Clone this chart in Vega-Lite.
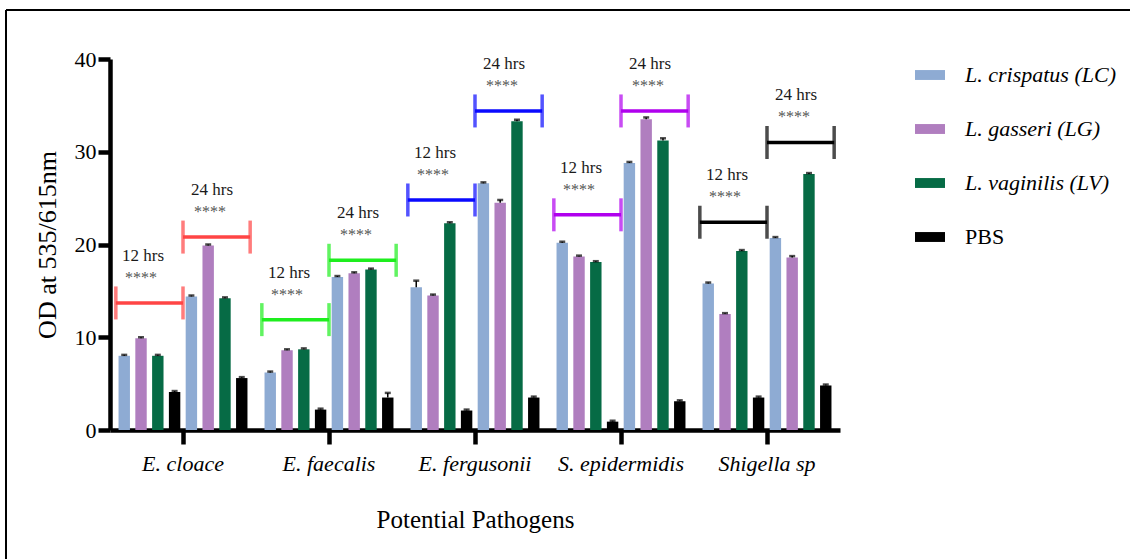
{
  "$schema": "https://vega.github.io/schema/vega-lite/v6.json",
  "width": 1124,
  "height": 549,
  "autosize": {"type": "none"},
  "padding": {"left": 6, "top": 10, "right": 0, "bottom": 0},
  "background": "white",
  "config": {
    "view": {"stroke": "black", "strokeWidth": 2, "strokeDash": [1124, 1673, 549, 0]},
    "font": "Liberation Serif",
    "axis": {"grid": false, "domainColor": "black", "tickColor": "black", "labelColor": "black", "titleColor": "black", "labelFont": "Liberation Serif", "titleFont": "Liberation Serif", "titleFontWeight": "normal"}
  },
  "datasets": {
    "bars": [
      {"pathogen": "E. cloace", "time": "12 hrs", "strain": "L. crispatus (LC)", "bar": "12LC", "value": 8.0, "upper": 8.1},
      {"pathogen": "E. cloace", "time": "12 hrs", "strain": "L. gasseri (LG)", "bar": "12LG", "value": 9.9, "upper": 10.0},
      {"pathogen": "E. cloace", "time": "12 hrs", "strain": "L. vaginilis (LV)", "bar": "12LV", "value": 8.0, "upper": 8.1},
      {"pathogen": "E. cloace", "time": "12 hrs", "strain": "PBS", "bar": "12PBS", "value": 4.1, "upper": 4.2},
      {"pathogen": "E. cloace", "time": "24 hrs", "strain": "L. crispatus (LC)", "bar": "24LC", "value": 14.4, "upper": 14.5},
      {"pathogen": "E. cloace", "time": "24 hrs", "strain": "L. gasseri (LG)", "bar": "24LG", "value": 19.9, "upper": 20.0},
      {"pathogen": "E. cloace", "time": "24 hrs", "strain": "L. vaginilis (LV)", "bar": "24LV", "value": 14.2, "upper": 14.3},
      {"pathogen": "E. cloace", "time": "24 hrs", "strain": "PBS", "bar": "24PBS", "value": 5.6, "upper": 5.7},
      {"pathogen": "E. faecalis", "time": "12 hrs", "strain": "L. crispatus (LC)", "bar": "12LC", "value": 6.2, "upper": 6.3},
      {"pathogen": "E. faecalis", "time": "12 hrs", "strain": "L. gasseri (LG)", "bar": "12LG", "value": 8.6, "upper": 8.7},
      {"pathogen": "E. faecalis", "time": "12 hrs", "strain": "L. vaginilis (LV)", "bar": "12LV", "value": 8.7, "upper": 8.8},
      {"pathogen": "E. faecalis", "time": "12 hrs", "strain": "PBS", "bar": "12PBS", "value": 2.2, "upper": 2.3},
      {"pathogen": "E. faecalis", "time": "24 hrs", "strain": "L. crispatus (LC)", "bar": "24LC", "value": 16.5, "upper": 16.6},
      {"pathogen": "E. faecalis", "time": "24 hrs", "strain": "L. gasseri (LG)", "bar": "24LG", "value": 16.9, "upper": 17.0},
      {"pathogen": "E. faecalis", "time": "24 hrs", "strain": "L. vaginilis (LV)", "bar": "24LV", "value": 17.3, "upper": 17.4},
      {"pathogen": "E. faecalis", "time": "24 hrs", "strain": "PBS", "bar": "24PBS", "value": 3.5, "upper": 4.0},
      {"pathogen": "E. fergusonii", "time": "12 hrs", "strain": "L. crispatus (LC)", "bar": "12LC", "value": 15.4, "upper": 16.1},
      {"pathogen": "E. fergusonii", "time": "12 hrs", "strain": "L. gasseri (LG)", "bar": "12LG", "value": 14.5, "upper": 14.6},
      {"pathogen": "E. fergusonii", "time": "12 hrs", "strain": "L. vaginilis (LV)", "bar": "12LV", "value": 22.3, "upper": 22.4},
      {"pathogen": "E. fergusonii", "time": "12 hrs", "strain": "PBS", "bar": "12PBS", "value": 2.1, "upper": 2.2},
      {"pathogen": "E. fergusonii", "time": "24 hrs", "strain": "L. crispatus (LC)", "bar": "24LC", "value": 26.6, "upper": 26.7},
      {"pathogen": "E. fergusonii", "time": "24 hrs", "strain": "L. gasseri (LG)", "bar": "24LG", "value": 24.5, "upper": 24.8},
      {"pathogen": "E. fergusonii", "time": "24 hrs", "strain": "L. vaginilis (LV)", "bar": "24LV", "value": 33.3, "upper": 33.45},
      {"pathogen": "E. fergusonii", "time": "24 hrs", "strain": "PBS", "bar": "24PBS", "value": 3.5, "upper": 3.6},
      {"pathogen": "S. epidermidis", "time": "12 hrs", "strain": "L. crispatus (LC)", "bar": "12LC", "value": 20.2, "upper": 20.3},
      {"pathogen": "S. epidermidis", "time": "12 hrs", "strain": "L. gasseri (LG)", "bar": "12LG", "value": 18.7, "upper": 18.8},
      {"pathogen": "S. epidermidis", "time": "12 hrs", "strain": "L. vaginilis (LV)", "bar": "12LV", "value": 18.1, "upper": 18.2},
      {"pathogen": "S. epidermidis", "time": "12 hrs", "strain": "PBS", "bar": "12PBS", "value": 0.9, "upper": 1.0},
      {"pathogen": "S. epidermidis", "time": "24 hrs", "strain": "L. crispatus (LC)", "bar": "24LC", "value": 28.8, "upper": 28.9},
      {"pathogen": "S. epidermidis", "time": "24 hrs", "strain": "L. gasseri (LG)", "bar": "24LG", "value": 33.5, "upper": 33.7},
      {"pathogen": "S. epidermidis", "time": "24 hrs", "strain": "L. vaginilis (LV)", "bar": "24LV", "value": 31.2, "upper": 31.45},
      {"pathogen": "S. epidermidis", "time": "24 hrs", "strain": "PBS", "bar": "24PBS", "value": 3.1, "upper": 3.2},
      {"pathogen": "Shigella sp", "time": "12 hrs", "strain": "L. crispatus (LC)", "bar": "12LC", "value": 15.8, "upper": 15.9},
      {"pathogen": "Shigella sp", "time": "12 hrs", "strain": "L. gasseri (LG)", "bar": "12LG", "value": 12.5, "upper": 12.6},
      {"pathogen": "Shigella sp", "time": "12 hrs", "strain": "L. vaginilis (LV)", "bar": "12LV", "value": 19.3, "upper": 19.4},
      {"pathogen": "Shigella sp", "time": "12 hrs", "strain": "PBS", "bar": "12PBS", "value": 3.5, "upper": 3.6},
      {"pathogen": "Shigella sp", "time": "24 hrs", "strain": "L. crispatus (LC)", "bar": "24LC", "value": 20.7, "upper": 20.8},
      {"pathogen": "Shigella sp", "time": "24 hrs", "strain": "L. gasseri (LG)", "bar": "24LG", "value": 18.6, "upper": 18.75},
      {"pathogen": "Shigella sp", "time": "24 hrs", "strain": "L. vaginilis (LV)", "bar": "24LV", "value": 27.6, "upper": 27.7},
      {"pathogen": "Shigella sp", "time": "24 hrs", "strain": "PBS", "bar": "24PBS", "value": 4.8, "upper": 4.9}
    ],
    "brackets": [
      {"pathogen": "E. cloace", "time": "12 hrs", "y": 13.7},
      {"pathogen": "E. cloace", "time": "24 hrs", "y": 20.8},
      {"pathogen": "E. faecalis", "time": "12 hrs", "y": 11.9},
      {"pathogen": "E. faecalis", "time": "24 hrs", "y": 18.3},
      {"pathogen": "E. fergusonii", "time": "12 hrs", "y": 24.8},
      {"pathogen": "E. fergusonii", "time": "24 hrs", "y": 34.4},
      {"pathogen": "S. epidermidis", "time": "12 hrs", "y": 23.2},
      {"pathogen": "S. epidermidis", "time": "24 hrs", "y": 34.4},
      {"pathogen": "Shigella sp", "time": "12 hrs", "y": 22.4},
      {"pathogen": "Shigella sp", "time": "24 hrs", "y": 31.0}
    ],
    "caps": [
      {"pathogen": "E. cloace", "time": "12 hrs", "slot": "a", "y": 13.7},
      {"pathogen": "E. cloace", "time": "12 hrs", "slot": "b", "y": 13.7},
      {"pathogen": "E. cloace", "time": "24 hrs", "slot": "b", "y": 20.8},
      {"pathogen": "E. cloace", "time": "24 hrs", "slot": "c", "y": 20.8},
      {"pathogen": "E. faecalis", "time": "12 hrs", "slot": "a", "y": 11.9},
      {"pathogen": "E. faecalis", "time": "12 hrs", "slot": "b", "y": 11.9},
      {"pathogen": "E. faecalis", "time": "24 hrs", "slot": "b", "y": 18.3},
      {"pathogen": "E. faecalis", "time": "24 hrs", "slot": "c", "y": 18.3},
      {"pathogen": "E. fergusonii", "time": "12 hrs", "slot": "a", "y": 24.8},
      {"pathogen": "E. fergusonii", "time": "12 hrs", "slot": "b", "y": 24.8},
      {"pathogen": "E. fergusonii", "time": "24 hrs", "slot": "b", "y": 34.4},
      {"pathogen": "E. fergusonii", "time": "24 hrs", "slot": "c", "y": 34.4},
      {"pathogen": "S. epidermidis", "time": "12 hrs", "slot": "a", "y": 23.2},
      {"pathogen": "S. epidermidis", "time": "12 hrs", "slot": "b", "y": 23.2},
      {"pathogen": "S. epidermidis", "time": "24 hrs", "slot": "b", "y": 34.4},
      {"pathogen": "S. epidermidis", "time": "24 hrs", "slot": "c", "y": 34.4},
      {"pathogen": "Shigella sp", "time": "12 hrs", "slot": "a", "y": 22.4},
      {"pathogen": "Shigella sp", "time": "12 hrs", "slot": "b", "y": 22.4},
      {"pathogen": "Shigella sp", "time": "24 hrs", "slot": "b", "y": 31.0},
      {"pathogen": "Shigella sp", "time": "24 hrs", "slot": "c", "y": 31.0}
    ]
  },
  "encoding": {
    "x": {
      "field": "pathogen",
      "type": "nominal",
      "sort": ["E. cloace", "E. faecalis", "E. fergusonii", "S. epidermidis", "Shigella sp"],
      "scale": {"range": [104, 834], "paddingInner": 0.08, "paddingOuter": 0.04},
      "axis": {
        "title": "Potential Pathogens",
        "offset": -129,
        "labelAngle": 0,
        "labelFontStyle": "italic",
        "labelFontSize": 22,
        "labelPadding": 9,
        "tickSize": 14,
        "tickWidth": 4.5,
        "domainWidth": 4.5,
        "titleFontSize": 25,
        "titlePadding": 33
      }
    }
  },
  "layer": [
    {
      "data": {"name": "bars"},
      "mark": {"type": "bar"},
      "encoding": {
        "xOffset": {"field": "bar", "type": "nominal", "sort": ["12LC", "12LG", "12LV", "12PBS", "24LC", "24LG", "24LV", "24PBS"], "scale": {"paddingInner": 0.32, "paddingOuter": 0.16}},
        "y": {
          "field": "value",
          "type": "quantitative",
          "title": "OD at 535/615nm",
          "scale": {"domain": [0, 40], "range": [420, 49], "nice": false},
          "axis": {
            "offset": -104,
            "values": [0, 10, 20, 30, 40],
            "labelFontSize": 22,
            "labelPadding": 2,
            "tickSize": 12,
            "tickWidth": 4.5,
            "domainWidth": 4.5,
            "titleFontSize": 26,
            "titlePadding": 14
          }
        },
        "color": {
          "field": "strain",
          "type": "nominal",
          "scale": {"domain": ["L. crispatus (LC)", "L. gasseri (LG)", "L. vaginilis (LV)", "PBS"], "range": ["#8EABD3", "#B07EBF", "#066B45", "#000000"]},
          "legend": {
            "title": null,
            "orient": "none",
            "legendX": 909,
            "legendY": 50,
            "padding": 0,
            "symbolType": "M-1,-0.33H1V0.33H-1Z",
            "symbolSize": 900,
            "symbolStrokeWidth": 0,
            "labelFont": "Liberation Serif",
            "labelFontSize": 22,
            "labelColor": "black",
            "labelOffset": 20,
            "labelLimit": 300,
            "rowPadding": 28,
            "encode": {"labels": {"update": {"fontStyle": {"signal": "datum.value === 'PBS' ? 'normal' : 'italic'"}}}}
          }
        }
      }
    },
    {
      "data": {"name": "bars"},
      "mark": {"type": "rule", "color": "black", "strokeWidth": 1.5},
      "encoding": {
        "xOffset": {"field": "bar", "type": "nominal", "sort": ["12LC", "12LG", "12LV", "12PBS", "24LC", "24LG", "24LV", "24PBS"], "scale": {"paddingInner": 0.32, "paddingOuter": 0.16}},
        "y": {"field": "value", "type": "quantitative", "title": "OD at 535/615nm"},
        "y2": {"field": "upper"}
      }
    },
    {
      "data": {"name": "bars"},
      "mark": {"type": "tick", "color": "black", "size": 6, "thickness": 2.5},
      "encoding": {
        "xOffset": {"field": "bar", "type": "nominal", "sort": ["12LC", "12LG", "12LV", "12PBS", "24LC", "24LG", "24LV", "24PBS"], "scale": {"paddingInner": 0.32, "paddingOuter": 0.16}},
        "y": {"field": "upper", "type": "quantitative", "title": "OD at 535/615nm"}
      }
    },
    {
      "data": {"name": "caps"},
      "mark": {"type": "line", "strokeWidth": 3.5},
      "encoding": {
        "xOffset": {"field": "slot", "type": "nominal", "sort": ["a", "b", "c"], "scale": {"paddingInner": 1, "paddingOuter": 0}},
        "y": {"field": "y", "type": "quantitative", "title": "OD at 535/615nm"},
        "detail": [{"field": "pathogen"}, {"field": "time"}],
        "stroke": {"field": "pathogen", "type": "nominal", "scale": {"domain": ["E. cloace", "E. faecalis", "E. fergusonii", "S. epidermidis", "Shigella sp"], "range": ["#FF4545", "#1EEE1E", "#0A0AFF", "#B000EE", "#000000"]}, "legend": null}
      }
    },
    {
      "data": {"name": "caps"},
      "mark": {"type": "tick", "orient": "vertical", "size": 33, "thickness": 3.5},
      "encoding": {
        "xOffset": {"field": "slot", "type": "nominal", "sort": ["a", "b", "c"], "scale": {"paddingInner": 1, "paddingOuter": 0}},
        "y": {"field": "y", "type": "quantitative", "title": "OD at 535/615nm"},
        "fill": {"field": "pathogen", "type": "nominal", "scale": {"domain": ["E. cloace", "E. faecalis", "E. fergusonii", "S. epidermidis", "Shigella sp"], "range": ["#FF4545", "#1EEE1E", "#0A0AFF", "#B000EE", "#000000"]}, "legend": null}
      }
    },
    {
      "data": {"name": "brackets"},
      "transform": [{"filter": {"field": "time", "equal": "12 hrs"}}],
      "mark": {"type": "text", "font": "Liberation Serif", "fontSize": 17, "color": "#1a1a1a", "dy": -47, "dx": -40},
      "encoding": {
        "y": {"field": "y", "type": "quantitative", "title": "OD at 535/615nm"},
        "text": {"field": "time"}
      }
    },
    {
      "data": {"name": "brackets"},
      "transform": [{"filter": {"field": "time", "equal": "24 hrs"}}],
      "mark": {"type": "text", "font": "Liberation Serif", "fontSize": 17, "color": "#1a1a1a", "dy": -47, "dx": 29},
      "encoding": {
        "y": {"field": "y", "type": "quantitative", "title": "OD at 535/615nm"},
        "text": {"field": "time"}
      }
    },
    {
      "data": {"name": "brackets"},
      "transform": [{"filter": {"field": "time", "equal": "12 hrs"}}],
      "mark": {"type": "text", "font": "Liberation Serif", "fontSize": 16, "color": "#555555", "dy": -25, "dx": -42, "text": "****"},
      "encoding": {
        "y": {"field": "y", "type": "quantitative", "title": "OD at 535/615nm"}
      }
    },
    {
      "data": {"name": "brackets"},
      "transform": [{"filter": {"field": "time", "equal": "24 hrs"}}],
      "mark": {"type": "text", "font": "Liberation Serif", "fontSize": 16, "color": "#555555", "dy": -25, "dx": 27, "text": "****"},
      "encoding": {
        "y": {"field": "y", "type": "quantitative", "title": "OD at 535/615nm"}
      }
    }
  ],
  "resolve": {"scale": {"xOffset": "independent"}}
}
